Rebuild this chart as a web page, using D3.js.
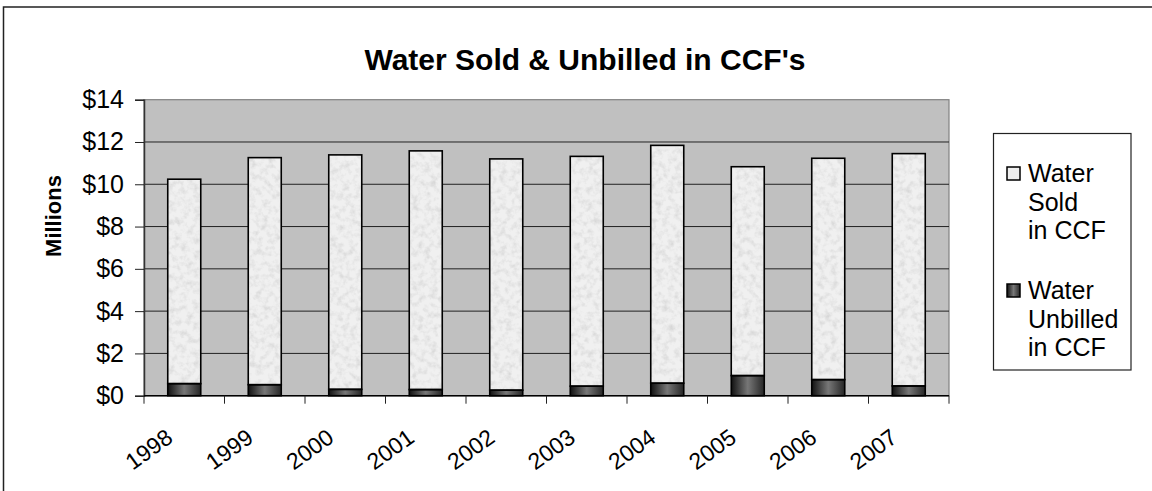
<!DOCTYPE html>
<html>
<head>
<meta charset="utf-8">
<script src="https://cdn.jsdelivr.net/npm/d3@7"></script>
<style>
  html, body { margin: 0; padding: 0; background: #fff; }
  svg { display: block; font-family: Arial, "Liberation Sans", sans-serif; }
</style>
</head>
<body>
<svg id="chart" width="1152" height="491"></svg>
<script>
// Water sold and unbilled, in millions of dollars
const years = ["1998", "1999", "2000", "2001", "2002", "2003", "2004", "2005", "2006", "2007"];
const unbilled = [0.57, 0.52, 0.30, 0.29, 0.26, 0.45, 0.59, 0.95, 0.76, 0.46];
const sold = [9.67, 10.74, 11.09, 11.29, 10.94, 10.87, 11.25, 9.88, 10.47, 10.99];
const yTicks = [0, 2, 4, 6, 8, 10, 12, 14];
const seriesNames = ["Water Sold in CCF", "Water Unbilled in CCF"];
const legendLines = [["Water", "Sold", "in CCF"], ["Water", "Unbilled", "in CCF"]];

const svg = d3.select("#chart");
const W = 1152, H = 491;
const plot = { left: 144, right: 949, top: 99.7, bottom: 395.7 };

// ---- definitions: stone texture and dark gradient ----
const defs = svg.append("defs");
const noise = defs.append("filter").attr("id", "stone")
  .attr("x", 0).attr("y", 0).attr("width", "100%").attr("height", "100%");
noise.append("feTurbulence").attr("type", "fractalNoise")
  .attr("baseFrequency", 0.16).attr("numOctaves", 3).attr("seed", 7).attr("result", "t");
noise.append("feColorMatrix").attr("in", "t").attr("type", "matrix")
  .attr("values", "0 0 0 0 0.62  0 0 0 0 0.62  0 0 0 0 0.62  1.6 0 0 0 -0.68")
  .attr("result", "spots");
const merge = noise.append("feMerge");
merge.append("feMergeNode").attr("in", "SourceGraphic");
merge.append("feMergeNode").attr("in", "spots");

const grad = defs.append("linearGradient").attr("id", "darkGrad")
  .attr("x1", "0%").attr("x2", "100%").attr("y1", "0%").attr("y2", "0%");
[["0%", "#111"], ["50%", "#777"], ["100%", "#262626"]].forEach(([o, c]) =>
  grad.append("stop").attr("offset", o).attr("stop-color", c));

// ---- outer chart frame ----
svg.append("rect").attr("x", 3.5).attr("y", 7).attr("width", W + 20).attr("height", H + 20)
  .attr("fill", "#fff").attr("stroke", "#222").attr("stroke-width", 1.5);

// ---- scales ----
const x = d3.scaleBand().domain(years).range([plot.left, plot.right])
  .paddingInner(0.59).paddingOuter(0.295);
const y = d3.scaleLinear().domain([0, 14]).range([plot.bottom, plot.top]);
const boundary = d => x(d) - x.step() * x.paddingOuter();

// ---- plot area ----
svg.append("rect").attr("x", plot.left).attr("y", plot.top)
  .attr("width", plot.right - plot.left).attr("height", plot.bottom - plot.top)
  .attr("fill", "#c0c0c0").attr("stroke", "#808080").attr("stroke-width", 1.2);

svg.append("g").selectAll("line").data(yTicks.filter(t => t > 0 && t < 14)).join("line")
  .attr("x1", plot.left).attr("x2", plot.right)
  .attr("y1", d => y(d)).attr("y2", d => y(d))
  .attr("stroke", "#222").attr("stroke-width", 1);

// ---- stacked bars ----
const stackData = years.map((yr, i) => ({ year: yr, unbilled: unbilled[i], sold: sold[i] }));
const stacked = d3.stack().keys(["unbilled", "sold"])(stackData);

const bars = svg.append("g");
// sold segments (textured)
bars.selectAll("rect.sold").data(stacked[1]).join("rect").attr("class", "sold")
  .attr("x", d => x(d.data.year)).attr("width", x.bandwidth())
  .attr("y", d => y(d[1])).attr("height", d => y(d[0]) - y(d[1]))
  .attr("fill", "#f0f0f0").attr("filter", "url(#stone)");
// unbilled segments (dark gradient)
bars.selectAll("rect.unb").data(stacked[0]).join("rect").attr("class", "unb")
  .attr("x", d => x(d.data.year)).attr("width", x.bandwidth())
  .attr("y", d => y(d[1])).attr("height", d => y(d[0]) - y(d[1]))
  .attr("fill", "url(#darkGrad)");
// outlines
stacked.forEach(s => {
  bars.append("g").selectAll("rect").data(s).join("rect")
    .attr("x", d => x(d.data.year)).attr("width", x.bandwidth())
    .attr("y", d => y(d[1])).attr("height", d => y(d[0]) - y(d[1]))
    .attr("fill", "none").attr("stroke", "#000").attr("stroke-width", 1.6);
});

// ---- y axis ----
const yAxis = svg.append("g").attr("transform", `translate(${plot.left},0)`)
  .call(d3.axisLeft(y).tickValues(yTicks).tickSize(9).tickPadding(11)
    .tickFormat(d => "$" + d));
yAxis.select(".domain").attr("stroke", "#333").attr("stroke-width", 1.5);
yAxis.selectAll(".tick line").attr("stroke", "#222");
yAxis.selectAll(".tick text").attr("font-size", 25).attr("fill", "#000")
  .attr("font-family", "Arial, 'Liberation Sans', sans-serif");

// ---- x axis: line, boundary ticks, rotated labels ----
const xg = svg.append("g");
xg.append("line").attr("x1", plot.left).attr("x2", plot.right)
  .attr("y1", plot.bottom).attr("y2", plot.bottom).attr("stroke", "#000").attr("stroke-width", 1.5);
xg.selectAll("line.tk").data(years.concat(["end"])).join("line").attr("class", "tk")
  .attr("x1", (d, i) => i < years.length ? boundary(d) : plot.right)
  .attr("x2", (d, i) => i < years.length ? boundary(d) : plot.right)
  .attr("y1", plot.bottom).attr("y2", plot.bottom + 8).attr("stroke", "#222");
xg.selectAll("text").data(years).join("text")
  .attr("transform", d => `translate(${x(d) + x.bandwidth() / 2 - 10},${plot.bottom + 45}) rotate(-36)`)
  .attr("text-anchor", "end").attr("font-size", 23).attr("fill", "#000")
  .text(d => d);

// ---- titles ----
svg.append("text").attr("x", 585).attr("y", 70).attr("text-anchor", "middle")
  .attr("font-size", 30).attr("font-weight", "bold").text("Water Sold & Unbilled in CCF's");
svg.append("text").attr("transform", "translate(61,216) rotate(-90)").attr("text-anchor", "middle")
  .attr("font-size", 22).attr("font-weight", "bold").text("Millions");

// ---- legend ----
const lg = svg.append("g");
lg.append("rect").attr("x", 993.5).attr("y", 133.5).attr("width", 137.5).attr("height", 236.5)
  .attr("fill", "#fff").attr("stroke", "#222").attr("stroke-width", 1.2);
const legendTop = [167, 284];
seriesNames.forEach((name, i) => {
  const g = lg.append("g").attr("transform", `translate(1007,${legendTop[i]})`);
  g.append("rect").attr("width", 13).attr("height", 13)
    .attr("fill", i === 0 ? "#efefef" : "url(#darkGrad)")
    .attr("stroke", "#000").attr("stroke-width", 1.5);
  const t = g.append("text").attr("x", 21).attr("y", 15).attr("font-size", 25);
  legendLines[i].forEach((ln, k) => t.append("tspan").attr("x", 21).attr("dy", k === 0 ? 0 : 28.5).text(ln));
});
</script>
</body>
</html>
